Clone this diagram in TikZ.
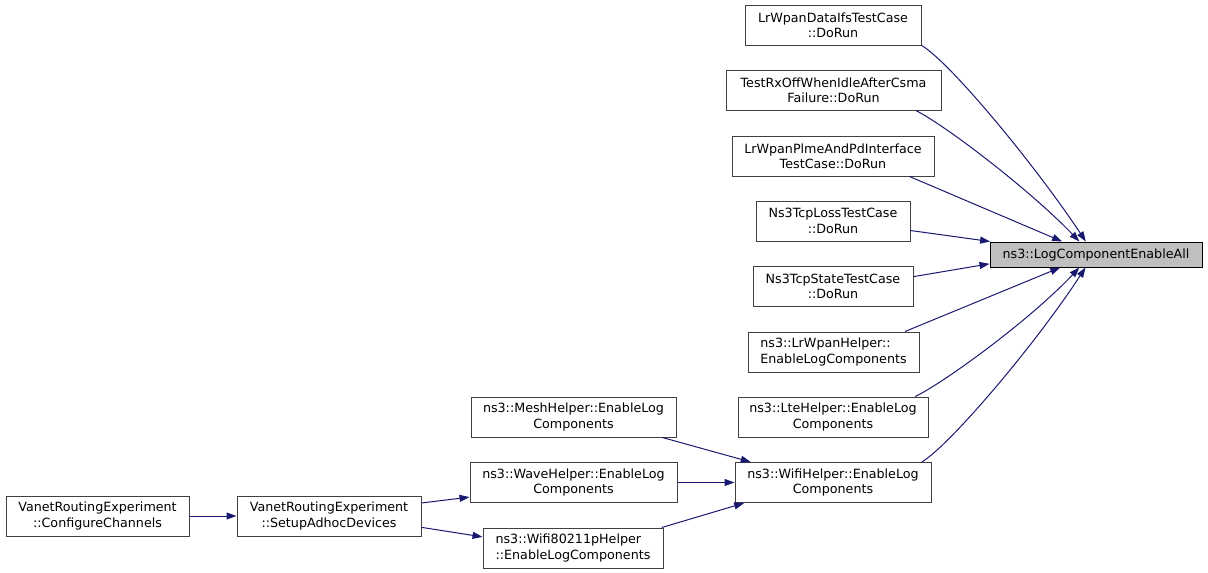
\documentclass[tikz,border=0pt]{standalone}
\usepackage{fontspec}
\setmainfont{DejaVu Sans}
\usetikzlibrary{arrows.meta}
\definecolor{edgeblue}{HTML}{191970}
\definecolor{boxgray}{HTML}{BFBFBF}
\definecolor{boxline}{HTML}{404040}
\tikzset{
  fn/.style={draw=boxline, line width=1pt, fill=white, inner sep=0pt, align=center,
    font=\fontsize{12.7}{15.3}\selectfont, minimum height=40pt},
  fnl/.style={fn, align=left},
  mainfn/.style={fn, draw=black, fill=boxgray, minimum height=25pt},
  calls/.style={draw=edgeblue, line width=1pt, -{Triangle[length=10pt,width=7pt]}, fill=none},
}
\begin{document}
\begin{tikzpicture}[x=1pt,y=-1pt]
\useasboundingbox (0,0) rectangle (1208,573);
% nodes
\node[mainfn, minimum width=212pt] (main) at (1096,254.5) {ns3::LogComponentEnableAll};
\node[fn, minimum width=176pt] (dataifs) at (833,25) {LrWpanDataIfsTestCase\\::DoRun};
\node[fn, minimum width=215pt] (rxoff) at (833.5,90) {TestRxOffWhenIdleAfterCsma\\Failure::DoRun};
\node[fn, minimum width=202pt] (plme) at (833,156) {LrWpanPlmeAndPdInterface\\TestCase::DoRun};
\node[fn, minimum width=154pt] (tcploss) at (833,221) {Ns3TcpLossTestCase\\::DoRun};
\node[fn, minimum width=160pt] (tcpstate) at (833,286.5) {Ns3TcpStateTestCase\\::DoRun};
\node[fnl, minimum width=171pt] (lrwpanhelper) at (833.5,352) {ns3::LrWpanHelper::\\EnableLogComponents};
\node[fn, minimum width=190pt] (lte) at (833,417) {ns3::LteHelper::EnableLog\\Components};
\node[fn, minimum width=196pt] (wifi) at (833,482.5) {ns3::WifiHelper::EnableLog\\Components};
\node[fn, minimum width=205pt] (mesh) at (573.5,417) {ns3::MeshHelper::EnableLog\\Components};
\node[fn, minimum width=207pt] (wave) at (573.5,482.5) {ns3::WaveHelper::EnableLog\\Components};
\node[fnl, minimum width=180pt] (p80211) at (573,548) {ns3::Wifi80211pHelper\\::EnableLogComponents};
\node[fn, minimum width=183pt] (configure) at (97.5,516) {VanetRoutingExperiment\\::ConfigureChannels};
\node[fn, minimum width=184pt] (setup) at (329,516) {VanetRoutingExperiment\\::SetupAdhocDevices};
% edges into main
\draw[calls] (dataifs.-13.4) .. controls (950,62) and (1035,165) .. (main.128.7);
\draw[calls] (rxoff.-14.3) .. controls (945,125) and (1030,190) .. (main.142);
\draw[calls] (plme.-15.9) -- (main.159.8);
\draw[calls] (tcploss.-7.4) -- (main.173.7);
\draw[calls] (tcpstate.7.1) -- (main.185.7);
\draw[calls] (lrwpanhelper.16.3) -- (main.200.2);
\draw[calls] (lte.14.2) .. controls (945,382) and (1030,320) .. (main.218);
\draw[calls] (wifi.13.1) .. controls (950,445) and (1035,345) .. (main.231.3);
% lower edges
\draw[calls] (mesh.-13.8) -- (wifi.166.3);
\draw[calls] (wave.east) -- (wifi.west);
\draw[calls] (p80211.13.7) -- (wifi.193.7);
\draw[calls] (setup.8.1) -- (wave.188);
\draw[calls] (setup.-7.5) -- (p80211.173);
\draw[calls] (configure.east) -- (setup.west);
\end{tikzpicture}
\end{document}
